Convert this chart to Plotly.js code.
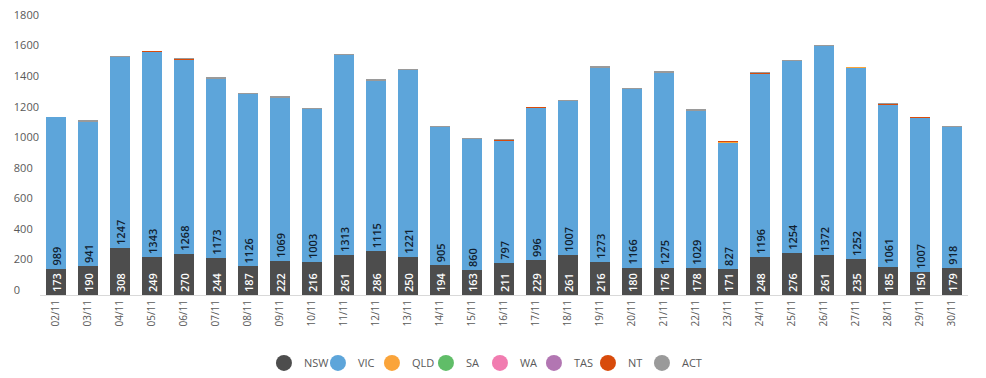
<!DOCTYPE html>
<html>
<head>
<meta charset="utf-8">
<script src="https://cdn.plot.ly/plotly-3.0.1.min.js"></script>
<style>html,body{margin:0;padding:0;background:#fff;}#chart{width:986px;height:378px;}</style>
</head>
<body>
<div id="chart"></div>
<script>
const dates = ["02/11","03/11","04/11","05/11","06/11","07/11","08/11","09/11","10/11","11/11","12/11","13/11","14/11","15/11","16/11","17/11","18/11","19/11","20/11","21/11","22/11","23/11","24/11","25/11","26/11","27/11","28/11","29/11","30/11"];
const nsw = [173,190,308,249,270,244,187,222,216,261,286,250,194,163,211,229,261,216,180,176,178,171,248,276,261,235,185,150,179];
const vic = [989,941,1247,1343,1268,1173,1126,1069,1003,1313,1115,1221,905,860,797,996,1007,1273,1166,1275,1029,827,1196,1254,1372,1252,1061,1007,918];
const qld = [0,0,0,0,0,0,0,0,0,0,2,0,0,0,0,0,0,0,0,0,0,2,0,0,0,3,0,0,2];
const sa  = [0,0,0,0,0,0,0,0,0,0,0,0,0,0,0,0,0,0,0,0,0,0,0,0,0,0,0,0,0];
const wa  = [0,0,0,0,0,0,0,0,0,0,0,0,0,0,0,0,0,0,0,0,0,0,0,0,0,0,0,0,0];
const tas = [0,0,0,0,0,0,0,0,0,0,0,0,0,0,0,0,0,0,0,0,0,0,0,0,0,0,0,0,0];
const nt  = [0,0,0,5,6,0,0,0,0,0,0,0,0,0,5,4,0,0,0,5,0,5,12,0,0,0,5,5,0];
const act = [0,12,8,3,6,9,6,10,2,3,12,6,5,6,6,2,10,10,8,10,8,6,5,8,3,3,4,4,4];
const yTicks = [0,200,400,600,800,1000,1200,1400,1600,1800];

const names = ["NSW","VIC","QLD","SA","WA","TAS","NT","ACT"];
const series = [nsw,vic,qld,sa,wa,tas,nt,act];
const colors = ["#4d4d4d","#5da5da","#faa43a","#60bd68","#f17cb0","#b276b2","#d84b0b","#9a9a9a"];

const font = "'Open Sans', 'DejaVu Sans', sans-serif";
const traces = [];
series.forEach((vals, i) => {
  const t = {
    type: 'bar', x: dates, y: vals, name: names[i],
    marker: {color: colors[i], line: {width: 0}},
    showlegend: false, hoverinfo: 'x+y+name'
  };
  if (i < 2) {
    t.text = vals.map(String);
    t.textposition = 'inside';
    t.insidetextanchor = 'start';
    t.textangle = -90;
    t.constraintext = 'none';
    t.insidetextfont = {family: font, size: 11, color: i === 0 ? '#ffffff' : '#10202e', weight: 600};
  } else {
    t.textposition = 'none';
  }
  traces.push(t);
});
names.forEach((n, i) => {
  traces.push({
    type: 'scatter', mode: 'markers', x: [null], y: [null], name: n,
    marker: {color: colors[i], size: 16, symbol: 'circle'},
    showlegend: true, hoverinfo: 'skip'
  });
});
// invisible spacer entry so the last legend label is not clipped
traces.push({
  type: 'scatter', mode: 'markers', x: [null], y: [null], name: ' ',
  marker: {color: 'rgba(0,0,0,0)', size: 1}, showlegend: true, hoverinfo: 'skip'
});

const pad = s => '\u2007'.repeat(4 - s.length);
const layout = {
  width: 986, height: 378,
  margin: {l: 40, r: 18, t: 20, b: 83, pad: 0, autoexpand: false},
  paper_bgcolor: '#ffffff', plot_bgcolor: '#ffffff',
  barmode: 'stack', bargap: 0.4,
  font: {family: font, size: 11, color: '#595959'},
  xaxis: {
    type: 'category', tickangle: -90, showgrid: false, zeroline: false, automargin: false,
    showline: true, linecolor: '#d9d9d9', linewidth: 1, ticks: '',
    tickfont: {family: font, size: 10, color: '#595959'}
  },
  yaxis: {
    range: [0, 1800], tickvals: yTicks, automargin: false,
    ticktext: yTicks.map(v => String(v) + pad(String(v))),
    showgrid: false, zeroline: false, showline: false, ticks: '',
    ticklabelshift: -5,
    tickfont: {family: font, size: 11, color: '#595959'}
  },
  showlegend: true,
  legend: {
    orientation: 'h', xref: 'container', yref: 'container',
    x: 0.2677, xanchor: 'left', y: 0.04, yanchor: 'middle',
    entrywidth: 9, entrywidthmode: 'pixels',
    font: {family: font, size: 11, color: '#595959'},
    traceorder: 'normal', itemclick: false, itemdoubleclick: false
  }
};
Plotly.newPlot('chart', traces, layout, {displayModeBar: false, staticPlot: true});
</script>
</body>
</html>
